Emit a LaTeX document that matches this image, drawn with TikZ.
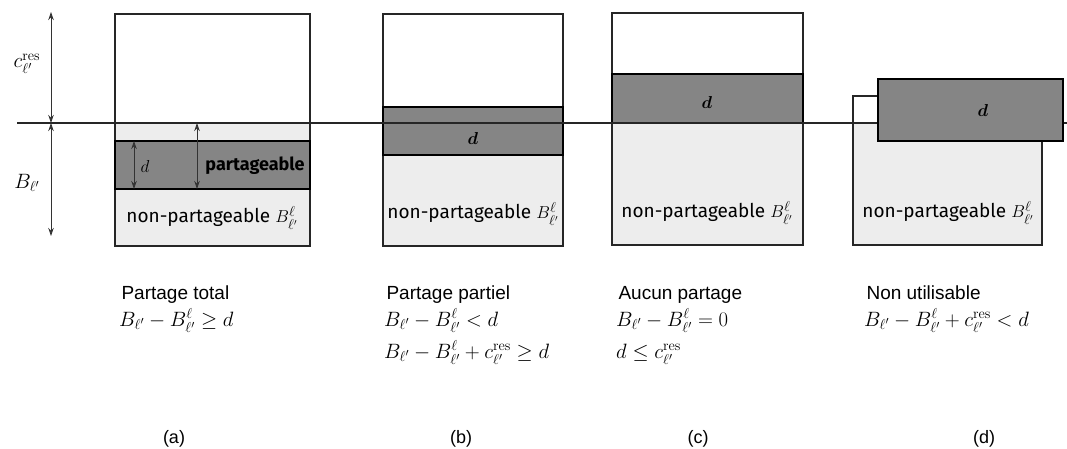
\documentclass[tikz,border=0pt]{standalone}
\usepackage{amsmath}
\usepackage{amssymb}
\usepackage[no-math]{fontspec}
\setmainfont{Liberation Sans}
\newfontfamily\boxfont{Fira Sans}
\usetikzlibrary{arrows.meta}

\begin{document}
\begin{tikzpicture}[x=1pt, y=-1pt,
  >={Stealth[length=8pt,width=5.5pt]},
  blank/.style={fill=white, draw=black!85, line width=1.2pt},
  pale/.style={fill=black!7, draw=black!85, line width=1.2pt},
  dark/.style={fill=black!48, draw=black, line width=1.4pt},
  dim/.style={<->, line width=0.9pt, black!80},
  inbox/.style={font=\boxfont\fontsize{19}{22}\selectfont},
  caption/.style={font=\fontsize{19}{22}\selectfont, anchor=base west},
  formula/.style={font=\fontsize{22}{26}\selectfont, anchor=base west},
  tag/.style={font=\fontsize{18}{20}\selectfont}]

  \useasboundingbox (0,0) rectangle (1067,449);

  \newcommand\Bl{B_{\ell'}}
  \newcommand\Bll{B^{\ell}_{\ell'}}
  \newcommand\cres{c^{\mathrm{res}}_{\ell'}}

  %% (a) partage total
  \draw[blank] (115,14) rectangle (310,123);
  \draw[pale] (115,123) rectangle (310,246);
  \draw[dark] (115,141) rectangle (310,189);

  %% (b) partage partiel
  \draw[blank] (383,14) rectangle (563,107);
  \draw[pale] (383,155) rectangle (563,246);
  \draw[dark] (383,107) rectangle (563,155);

  %% (c) aucun partage
  \draw[blank] (612,13) rectangle (803,74);
  \draw[pale] (612,123) rectangle (803,245);
  \draw[dark] (612,74) rectangle (803,123);

  %% (d) non utilisable
  \draw[pale] (853,123) rectangle (1042,245);
  \draw[blank] (853,96) rectangle (878,123);

  %% ligne de reference
  \coordinate (lineL) at (17,123);
  \coordinate (lineR) at (1067,123);
  \draw[line width=1.1pt, black!85] (lineL) -- (lineR);

  \draw[dark] (878,79) rectangle (1063,141);

  %% cotes a gauche
  \coordinate (ctop) at (51,12);
  \coordinate (cmid) at (51,123);
  \coordinate (cbot) at (51,236);
  \draw[dim] (ctop) -- (cmid);
  \draw[dim] (cmid) -- (cbot);
  \node[font=\fontsize{21}{22}\selectfont, inner sep=1pt] (cres) at (27,64) {$\cres$};
  \node[font=\fontsize{22}{24}\selectfont, inner sep=1pt] (bl) at (27,183) {$\Bl$};

  %% cotes dans (a)
  \coordinate (dtop) at (134,141);
  \coordinate (dbot) at (134,189);
  \draw[dim] (dtop) -- (dbot);
  \coordinate (ptop) at (197,123);
  \coordinate (pbot) at (197,189);
  \draw[dim] (ptop) -- (pbot);

  \node[inbox, anchor=west] (da) at (137,166) {$d$};
  \node[inbox, font=\boxfont\bfseries\fontsize{18}{20}\selectfont] (parta) at (255,166) {partageable};
  \node[inbox] (npa) at (212,218) {non-partageable $\Bll$};

  %% textes dans (b), (c), (d)
  \node[inbox] (db) at (473,139) {$\boldsymbol{d}$};
  \node[inbox] (npb) at (473,214) {non-partageable $\Bll$};
  \node[inbox] (dc) at (707,103) {$\boldsymbol{d}$};
  \node[inbox] (npc) at (707,213) {non-partageable $\Bll$};
  \node[inbox] (dd) at (983,111) {$\boldsymbol{d}$};
  \node[inbox] (npd) at (948,213) {non-partageable $\Bll$};

  %% conditions
  \node[caption] (capa) at (118,299) {Partage total};
  \node[formula, inner sep=1pt] (fa) at (118,326) {$\Bl - \Bll \geq d$};

  \node[caption] (capb) at (383,299) {Partage partiel};
  \node[formula, inner sep=1pt] (fb1) at (383,326) {$\Bl - \Bll < d$};
  \node[formula, inner sep=1pt] (fb2) at (383,358) {$\Bl - \Bll + \cres \geq d$};

  \node[caption] (capc) at (615,299) {Aucun partage};
  \node[formula, inner sep=1pt] (fc1) at (615,326) {$\Bl - \Bll = 0$};
  \node[formula, inner sep=1pt] (fc2) at (615,358) {$d \leq \cres$};

  \node[caption] (capd) at (863,299) {Non utilisable};
  \node[formula, inner sep=1pt] (fd) at (863,326) {$\Bl - \Bll + \cres < d$};

  %% sous-figures
  \node[tag] (ta) at (174,439) {(a)};
  \node[tag] (tb) at (461,439) {(b)};
  \node[tag] (tc) at (698,439) {(c)};
  \node[tag] (td) at (984,439) {(d)};
\end{tikzpicture}
\end{document}
